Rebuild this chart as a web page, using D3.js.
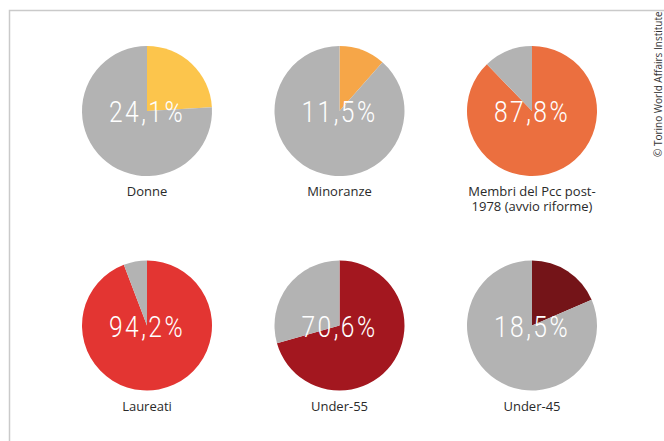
<!DOCTYPE html>
<html>
<head>
<meta charset="utf-8">
<script src="https://cdn.jsdelivr.net/npm/d3@7"></script>
<style>
  html, body { margin: 0; padding: 0; background: #fff; }
  svg { display: block; }
</style>
</head>
<body>
<div id="chart"></div>
<script>
// ---- data ----
const categories = ["Donne", "Minoranze", "Membri del Pcc post-1978 (avvio riforme)", "Laureati", "Under-55", "Under-45"];
const labelLines = [["Donne"], ["Minoranze"], ["Membri del Pcc post-", "1978 (avvio riforme)"], ["Laureati"], ["Under-55"], ["Under-45"]];
const shares = [24.1, 11.5, 87.8, 94.2, 70.6, 18.5];
const shareLabels = ["24,1%", "11,5%", "87,8%", "94,2%", "70,6%", "18,5%"];
const colors = ["#fcc54c", "#f6a648", "#eb6f3f", "#e33532", "#a3171f", "#741418"];
const restColor = "#b3b3b3";
const credit = "© Torino World Affairs Institute";

// ---- layout ----
const W = 664, H = 441;
const svg = d3.select("#chart").append("svg").attr("width", W).attr("height", H);

// frame
svg.append("path")
  .attr("d", "M9.5,441 L9.5,10.5 L664,10.5")
  .attr("fill", "none").attr("stroke", "#cacaca").attr("stroke-width", 1.5);

const col = d3.scalePoint().domain([0, 1, 2]).range([147, 532]);
const row = d3.scalePoint().domain([0, 1]).range([111, 325.5]);
const R = 65;

const pie = d3.pie().sort(null).value(d => d);
const arc = d3.arc().innerRadius(0).outerRadius(R);

categories.forEach((cat, i) => {
  const g = svg.append("g")
    .attr("transform", `translate(${col(i % 3)},${row(Math.floor(i / 3))})`);
  const arcs = pie([shares[i], 100 - shares[i]]);
  g.selectAll("path").data(arcs).join("path")
    .attr("d", arc)
    .attr("fill", (d, j) => j === 0 ? colors[i] : restColor);
  g.append("text")
    .attr("x", 0).attr("y", 11)
    .attr("text-anchor", "middle")
    .attr("transform", "scale(0.82,1)")
    .attr("fill", "#fff")
    .style("font-family", "Roboto, sans-serif")
    .style("font-weight", 300)
    .style("font-size", "30px")
    .style("letter-spacing", "3px")
    .text(shareLabels[i]);
  labelLines[i].forEach((ln, k) => {
    g.append("text")
      .attr("x", 0).attr("y", 85 + k * 15)
      .attr("text-anchor", "middle")
      .attr("fill", "#2a2a2a")
      .style("font-family", "'Open Sans', sans-serif")
      .style("font-size", "13px")
      .text(ln);
  });
});

// credit
svg.append("text")
  .attr("transform", "translate(662,157) rotate(-90)")
  .attr("text-anchor", "start")
  .attr("fill", "#333")
  .style("font-family", "'Open Sans', sans-serif")
  .style("font-size", "10px")
  .text(credit);
</script>
</body>
</html>
